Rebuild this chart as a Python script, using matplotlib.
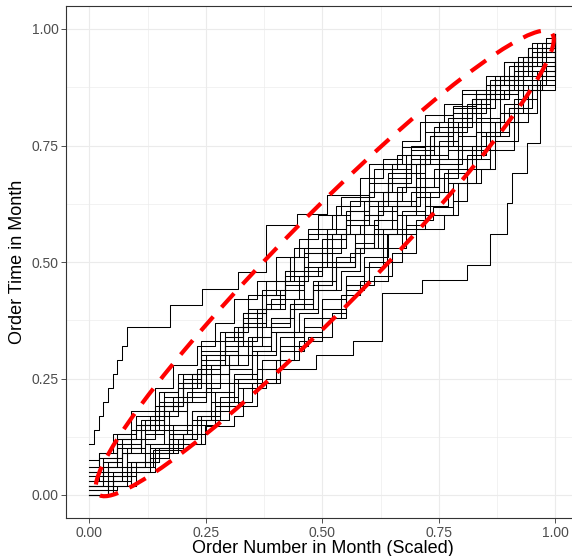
import matplotlib
matplotlib.use("Agg")
import matplotlib.pyplot as plt
from matplotlib.patches import Ellipse

plt.rcParams['font.family'] = ['Liberation Sans', 'DejaVu Sans']

# ---- data: order time (scaled) vs order number (scaled), one step series per month ----
# steps-post format: level y[i] holds from x[i] to x[i+1]
m_a_x = [0, .01, .02, .03, .04, .05, .06, .07, .08, .173, .241, .319, .378, .445, .51, .60, .67, .72, .78, .83, .88, .93, .97, 1.0]
m_a_y = [.11, .14, .17, .20, .23, .26, .29, .32, .36, .408, .443, .479, .579, .604, .644, .71, .747, .815, .835, .87, .90, .94, .96, .99]

m_b_x = [0, .04, .09, .137, .2, .248, .31, .33, .36, .409, .487, .566, .627, .713, .81, .86, .895, .906, .938, .967, 1.0]
m_b_y = [0, .03, .06, .097, .11, .147, .17, .19, .24, .27, .30, .33, .433, .461, .494, .561, .626, .69, .755, .89, .91]

m_c_x = [0, .05, .1, .15, .2, .25, .3, .35, .4, .45, .5, .55, .6, .638, .70, .738, .78, .83, .87, .92, .96, 1.0]
m_c_y = [.02, .04, .07, .1, .13, .16, .2, .24, .29, .33, .38, .45, .5, .561, .59, .619, .67, .74, .8, .85, .9, .93]

m_01_x = [0, .03, .07, .11, .16, .20, .25, .29, .33, .38, .42, .47, .51, .55, .60, .64, .69, .73, .78, .82, .86, .91, .95, 1.0]
m_01_y = [.02, .06, .10, .15, .19, .24, .28, .33, .37, .41, .46, .50, .55, .59, .63, .68, .72, .77, .81, .85, .89, .93, .97, .99]

m_02_x = [0, .05, .09, .14, .18, .23, .28, .32, .37, .41, .46, .50, .55, .59, .64, .68, .73, .77, .82, .86, .91, .95, 1.0]
m_02_y = [0, .03, .06, .10, .13, .17, .21, .25, .29, .34, .38, .42, .47, .51, .56, .60, .65, .70, .75, .80, .85, .91, .95]

m_03_x = [0, .02, .06, .10, .15, .19, .24, .28, .33, .37, .42, .46, .50, .55, .59, .64, .68, .72, .77, .81, .86, .90, .94, 1.0]
m_03_y = [.05, .08, .12, .17, .22, .26, .31, .35, .39, .44, .48, .52, .55, .59, .63, .67, .71, .75, .79, .84, .88, .92, .96, .98]

m_04_x = [0, .04, .08, .13, .17, .22, .26, .31, .35, .40, .44, .49, .53, .57, .62, .66, .70, .75, .79, .84, .88, .93, .97, 1.0]
m_04_y = [0, .02, .05, .08, .12, .16, .20, .25, .30, .35, .40, .46, .51, .56, .61, .66, .71, .76, .80, .85, .89, .94, .97, .99]

m_05_x = [0, .03, .08, .12, .16, .21, .25, .30, .34, .39, .43, .48, .52, .57, .61, .65, .70, .74, .79, .83, .88, .92, .96, 1.0]
m_05_y = [.03, .05, .09, .13, .18, .21, .26, .30, .34, .38, .41, .45, .49, .53, .57, .62, .66, .70, .74, .78, .82, .87, .91, .94]

m_06_x = [0, .02, .05, .09, .14, .18, .23, .27, .31, .36, .40, .45, .49, .54, .58, .63, .67, .71, .76, .80, .85, .89, .94, .98, 1.0]
m_06_y = [.06, .09, .13, .18, .23, .28, .32, .37, .42, .46, .51, .55, .60, .64, .68, .72, .76, .80, .84, .87, .90, .93, .96, .98, .99]

m_07_x = [0, .05, .10, .14, .19, .23, .28, .32, .37, .41, .46, .50, .55, .59, .63, .68, .72, .77, .81, .86, .90, .95, 1.0]
m_07_y = [0, .02, .05, .09, .12, .16, .19, .23, .27, .31, .36, .40, .44, .49, .53, .58, .62, .67, .72, .77, .83, .88, .92]

m_08_x = [0, .04, .07, .11, .16, .20, .24, .29, .33, .38, .42, .46, .51, .55, .60, .64, .69, .73, .78, .82, .87, .91, .95, 1.0]
m_08_y = [.04, .07, .11, .15, .19, .23, .28, .32, .36, .40, .45, .49, .53, .58, .62, .67, .71, .75, .79, .83, .87, .91, .94, .97]

m_09_x = [0, .03, .06, .11, .15, .20, .24, .29, .33, .38, .42, .47, .51, .56, .60, .65, .69, .74, .78, .83, .87, .92, .96, 1.0]
m_09_y = [.02, .07, .11, .16, .20, .25, .30, .34, .39, .43, .47, .52, .56, .61, .65, .70, .74, .78, .82, .86, .90, .94, .97, .99]

m_10_x = [0, .04, .09, .13, .18, .22, .27, .31, .36, .40, .45, .49, .54, .58, .63, .67, .72, .76, .81, .85, .90, .94, .98, 1.0]
m_10_y = [.02, .04, .07, .11, .15, .18, .22, .26, .31, .35, .39, .44, .48, .53, .57, .61, .65, .69, .73, .78, .83, .88, .92, .95]

m_11_x = [0, .03, .07, .12, .16, .20, .25, .29, .34, .38, .43, .47, .52, .56, .60, .65, .69, .74, .78, .83, .87, .92, .96, 1.0]
m_11_y = [.06, .08, .12, .16, .21, .26, .30, .35, .40, .46, .51, .57, .60, .63, .67, .71, .75, .79, .83, .86, .89, .92, .95, .98]

m_12_x = [0, .05, .08, .13, .17, .22, .26, .30, .35, .39, .44, .48, .53, .57, .62, .66, .71, .75, .80, .84, .89, .93, .97, 1.0]
m_12_y = [.01, .04, .07, .10, .14, .18, .22, .27, .31, .35, .40, .44, .49, .53, .57, .62, .66, .71, .75, .80, .84, .89, .93, .96]

m_13_x = [0, .02, .06, .10, .14, .19, .23, .28, .32, .37, .41, .46, .50, .54, .59, .63, .68, .72, .77, .81, .85, .90, .94, .98, 1.0]
m_13_y = [.075, .09, .12, .15, .19, .23, .27, .31, .36, .40, .44, .48, .52, .56, .60, .65, .69, .73, .78, .82, .86, .90, .93, .96, .99]

m_14_x = [0, .04, .08, .12, .17, .21, .26, .30, .35, .39, .44, .48, .53, .57, .61, .66, .70, .75, .79, .84, .88, .93, .97, 1.0]
m_14_y = [.03, .06, .10, .14, .18, .22, .26, .30, .34, .38, .42, .46, .49, .53, .56, .60, .64, .68, .72, .77, .82, .87, .91, .93]

m_15_x = [0, .03, .07, .11, .15, .20, .24, .29, .33, .37, .42, .46, .51, .55, .60, .64, .68, .73, .77, .82, .86, .91, .95, 1.0]
m_15_y = [.04, .06, .09, .14, .19, .24, .29, .34, .38, .43, .48, .53, .57, .61, .65, .69, .73, .77, .81, .85, .88, .92, .95, .98]

m_16_x = [0, .04, .07, .12, .16, .21, .25, .30, .34, .39, .43, .48, .52, .57, .61, .66, .70, .75, .79, .83, .88, .92, .97, 1.0]
m_16_y = [0, .03, .06, .11, .15, .20, .24, .28, .32, .37, .41, .45, .50, .54, .59, .63, .68, .72, .77, .81, .86, .90, .94, .97]

m_17_x = [0, .03, .06, .10, .16, .19, .24, .31, .34, .40, .44, .47, .53, .58, .61, .66, .72, .75, .80, .85, .89, .94, 1.0]
m_17_y = [.05, .07, .13, .15, .22, .24, .33, .36, .43, .46, .53, .56, .62, .64, .70, .73, .78, .80, .86, .88, .93, .96, .98]

m_18_x = [0, .06, .09, .15, .18, .24, .27, .33, .38, .41, .47, .52, .55, .61, .65, .70, .76, .79, .84, .87, .92, .96, 1.0]
m_18_y = [.01, .02, .07, .09, .11, .17, .19, .23, .25, .32, .34, .39, .45, .47, .52, .57, .60, .67, .70, .76, .82, .90, .94]

m_19_x = [0, .02, .07, .09, .13, .19, .22, .26, .32, .36, .39, .45, .49, .52, .58, .62, .67, .71, .74, .80, .83, .89, .93, .97, 1.0]
m_19_y = [.03, .08, .09, .14, .17, .20, .26, .28, .33, .40, .42, .47, .49, .56, .58, .63, .66, .73, .75, .80, .85, .87, .92, .95, .97]

m_20_x = [0, .04, .06, .11, .14, .18, .25, .28, .32, .37, .43, .46, .50, .56, .59, .63, .69, .72, .77, .83, .86, .90, .95, 1.0]
m_20_y = [.05, .06, .10, .12, .18, .21, .23, .30, .32, .36, .40, .47, .50, .52, .60, .62, .65, .72, .74, .78, .85, .88, .92, .96]

m_21_x = [0, .05, .08, .12, .17, .21, .27, .30, .36, .41, .44, .50, .54, .58, .64, .67, .72, .78, .81, .86, .91, .94, 1.0]
m_21_y = [.02, .05, .06, .09, .13, .15, .18, .24, .27, .29, .35, .38, .43, .46, .50, .57, .60, .63, .70, .74, .80, .87, .92]

months = [
    (m_a_x, m_a_y), (m_b_x, m_b_y), (m_c_x, m_c_y),
    (m_01_x, m_01_y), (m_02_x, m_02_y), (m_03_x, m_03_y), (m_04_x, m_04_y),
    (m_05_x, m_05_y), (m_06_x, m_06_y), (m_07_x, m_07_y), (m_08_x, m_08_y),
    (m_09_x, m_09_y), (m_10_x, m_10_y), (m_11_x, m_11_y), (m_12_x, m_12_y),
    (m_13_x, m_13_y), (m_14_x, m_14_y), (m_15_x, m_15_y), (m_16_x, m_16_y),
    (m_17_x, m_17_y), (m_18_x, m_18_y), (m_19_x, m_19_y), (m_20_x, m_20_y),
    (m_21_x, m_21_y),
]

# ellipse (red dashed) parameters
ell_center = (0.505, 0.497)
ell_width = 1.388
ell_height = 0.194
ell_angle = 45.5

ticks = [0.00, 0.25, 0.50, 0.75, 1.00]
tick_labels = ["0.00", "0.25", "0.50", "0.75", "1.00"]
minor_ticks = [0.125, 0.375, 0.625, 0.875]

# ---- figure ----
W, H = 572, 556
fig = plt.figure(figsize=(W / 100, H / 100), dpi=100)
left, right, top, bottom = 66, 578.8, 5.7, 518.3
ax = fig.add_axes([left / W, 1 - bottom / H, (right - left) / W, (bottom - top) / H])
ax.set_xlim(-0.05, 1.05)
ax.set_ylim(-0.05, 1.05)

for t in ticks:
    ax.axvline(t, color='#EBEBEB', lw=0.8, zorder=0)
    ax.axhline(t, color='#EBEBEB', lw=0.8, zorder=0)
for t in minor_ticks:
    ax.axvline(t, color='#EBEBEB', lw=0.45, zorder=0)
    ax.axhline(t, color='#EBEBEB', lw=0.45, zorder=0)

for xs, ys in months:
    ax.plot(xs, ys, drawstyle='steps-post', color='black', lw=0.75, zorder=2)

ell = Ellipse(ell_center, ell_width, ell_height, angle=ell_angle, fill=False,
              edgecolor='#FF0000', lw=3.0, linestyle=(0, (4.5, 3.0)), zorder=3)
ax.add_patch(ell)

ax.set_xticks(ticks)
ax.set_xticklabels(tick_labels)
ax.set_yticks(ticks)
ax.set_yticklabels(tick_labels)
ax.tick_params(axis='both', direction='out', length=3.8, width=0.6, color='#333333',
               labelsize=10, labelcolor='#4D4D4D', pad=1.5)
for s in ax.spines.values():
    s.set_color('#333333')
    s.set_linewidth(0.8)

ax.set_xlabel('Order Number in Month (Scaled)', fontsize=13, color='black', labelpad=0)
ax.set_ylabel('Order Time in Month', fontsize=13, color='black', labelpad=4)

fig.savefig('out.png', dpi=100)
